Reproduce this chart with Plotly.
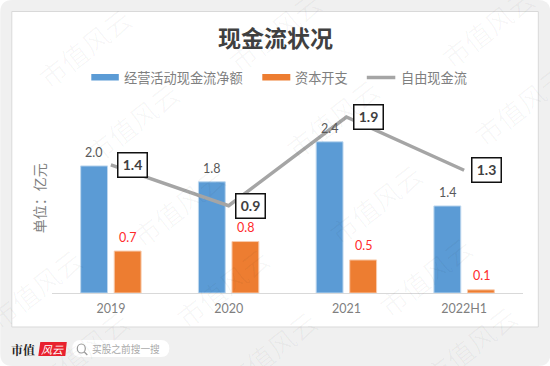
import plotly.graph_objects as go

categories = ["2019", "2020", "2021", "2022H1"]
operating_cash = [2.0, 1.75, 2.38, 1.37]
capex = [0.66, 0.81, 0.52, 0.05]
free_cash = [1.36, 0.9, 1.9, 1.3]
operating_labels = ["2.0", "1.8", "2.4", "1.4"]
capex_labels = ["0.7", "0.8", "0.5", "0.1"]
free_labels = ["1.4", "0.9", "1.9", "1.3"]

W, H = 550, 366
ML, MR, MT, MB = 51.7, 27.3, 70, 73
CJK = "Noto Sans CJK SC"
NUM = "Lato, Noto Sans CJK SC"
BLUE, ORANGE, GREY = "#5B9BD5", "#ED7D31", "#A5A5A5"


def px(x):
    return (x - ML) / (W - ML - MR)


def py(y):
    return (H - MB - y) / (H - MT - MB)


def rrect(x0, y0, x1, y1, r):
    a, b, c, d = px(x0), py(y0), px(x1), py(y1)
    rx, ry = r / (W - ML - MR), r / (H - MT - MB)
    return (f"M{a+rx},{b} L{c-rx},{b} Q{c},{b} {c},{b-ry} L{c},{d+ry} Q{c},{d} {c-rx},{d} "
            f"L{a+rx},{d} Q{a},{d} {a},{d+ry} L{a},{b-ry} Q{a},{b} {a+rx},{b} Z")


shapes = [
    dict(type="path", xref="paper", yref="paper", path=rrect(0, 0, 550, 366, 12),
         fillcolor="#F0F0F0", line_width=0, layer="below"),
    dict(type="rect", xref="paper", yref="paper", x0=px(11.5), x1=px(538), y0=py(327), y1=py(11.5),
         fillcolor="#FFFFFF", line=dict(color="#D9D9D9", width=1), layer="below"),
    # legend swatches
    dict(type="rect", xref="paper", yref="paper", x0=px(91), x1=px(118.5), y0=py(80.5), y1=py(74),
         fillcolor=BLUE, line_width=0),
    dict(type="rect", xref="paper", yref="paper", x0=px(262), x1=px(290), y0=py(80.5), y1=py(74),
         fillcolor=ORANGE, line_width=0),
    dict(type="line", xref="paper", yref="paper", x0=px(366.5), x1=px(395), y0=py(77.5), y1=py(77.5),
         line=dict(color=GREY, width=3.5)),
    # brand block
    dict(type="path", xref="paper", yref="paper",
         path=f"M{px(40)},{py(342)} L{px(66.5)},{py(342)} L{px(65)},{py(356)} L{px(38)},{py(356)} Z",
         fillcolor="#E8212E", line_width=0),
    dict(type="path", xref="paper", yref="paper", path=rrect(72, 340, 169, 357, 8.5),
         fillcolor="#FFFFFF", line_width=0),
    dict(type="circle", xref="paper", yref="paper", x0=px(77), x1=px(85), y0=py(353), y1=py(344),
         line=dict(color="#999999", width=1.2)),
    dict(type="line", xref="paper", yref="paper", x0=px(84), x1=px(87), y0=py(352), y1=py(355),
         line=dict(color="#999999", width=1.2)),
]

annotations = []


def text(x, y, s, size, color, family=CJK, anchor="center", angle=0, bold=False):
    annotations.append(dict(
        xref="paper", yref="paper", x=px(x), y=py(y), text=f"<b>{s}</b>" if bold else s, showarrow=False,
        xanchor=anchor, yanchor="middle", textangle=angle, font=dict(size=size, color=color, family=family)))


text(275, 37, "现金流状况", 23, "#404040", bold=True)
text(121.5, 77, "经营活动现金流净额", 13.2, "#7F7F7F", anchor="left")
text(293, 77, "资本开支", 13.2, "#7F7F7F", anchor="left")
text(398.5, 77, "自由现金流", 13.2, "#7F7F7F", anchor="left")
text(39, 198, "单位：亿元", 14, "#7F7F7F", angle=-90)

for i, (v, s) in enumerate(zip(operating_cash, operating_labels)):
    annotations.append(dict(xref="x", yref="y", x=i, y=v, text=s, showarrow=False, xshift=-17, yshift=13.5,
                            yanchor="middle", font=dict(size=12.5, color="#595959", family=NUM)))
for i, (v, s) in enumerate(zip(capex, capex_labels)):
    annotations.append(dict(xref="x", yref="y", x=i, y=v, text=s, showarrow=False, xshift=17, yshift=14,
                            yanchor="middle", font=dict(size=12.5, color="#FF2B2B", family=NUM)))
for i, (v, s) in enumerate(zip(free_cash, free_labels)):
    annotations.append(dict(xref="x", yref="y2", x=i, y=v, text=f"<b>{s}</b>", showarrow=False, xshift=22,
                            yanchor="middle", bgcolor="#FFFFFF", bordercolor="#111111", borderwidth=1.5,
                            borderpad=3, width=22, height=16.5,
                            font=dict(size=14, color="#404040", family=NUM)))

text(23, 349, "市值", 12, "#222222", family="Noto Serif CJK SC, Noto Sans CJK SC", bold=True)
text(52, 349, "<i>风云</i>", 11, "#FFFFFF")
text(126, 348.5, "买股之前搜一搜", 9.7, "#AAAAAA")

# faint repeated watermark
watermark = [(85, 48), (275, 32), (488, 28), (132, 122), (332, 118), (520, 105),
             (178, 206), (375, 203), (35, 288), (222, 287),
             (425, 276), (82, 350), (270, 350), (470, 345)]
for x, y in watermark:
    text(x, y, "市值风云", 27, "rgba(0,0,0,0.032)", angle=-38)

fig = go.Figure()
fig.add_bar(x=categories, y=operating_cash, name="经营活动现金流净额",
            marker=dict(color=BLUE, line=dict(color="#BDD7EE", width=1)))
fig.add_bar(x=categories, y=capex, name="资本开支",
            marker=dict(color=ORANGE, line=dict(color="#F8CBAD", width=1)))
fig.add_scatter(x=categories, y=free_cash, name="自由现金流", yaxis="y2", mode="lines",
                line=dict(color=GREY, width=3.5, shape="linear"))

fig.update_layout(
    width=W, height=H, autosize=False,
    margin=dict(l=ML, r=MR, t=MT, b=MB, pad=0),
    paper_bgcolor="#FFFFFF", plot_bgcolor="rgba(0,0,0,0)",
    showlegend=False, barmode="group", bargap=0.43, bargroupgap=0.2,
    shapes=shapes, annotations=annotations,
    xaxis=dict(type="category", range=[-0.5, 3.5], showgrid=False, ticks="", showline=True,
               linecolor="#D9D9D9", linewidth=1,
               tickfont=dict(size=12.5, color="#7F7F7F", family=NUM), ticklabelstandoff=4),
    yaxis=dict(range=[0, 3.51], visible=False, showgrid=False),
    yaxis2=dict(range=[-0.084, 2.43], overlaying="y", visible=False, showgrid=False),
)

fig.write_html("out.html", config={"displayModeBar": False},
               post_script="document.body.style.margin='0';document.documentElement.style.overflow='hidden';")
